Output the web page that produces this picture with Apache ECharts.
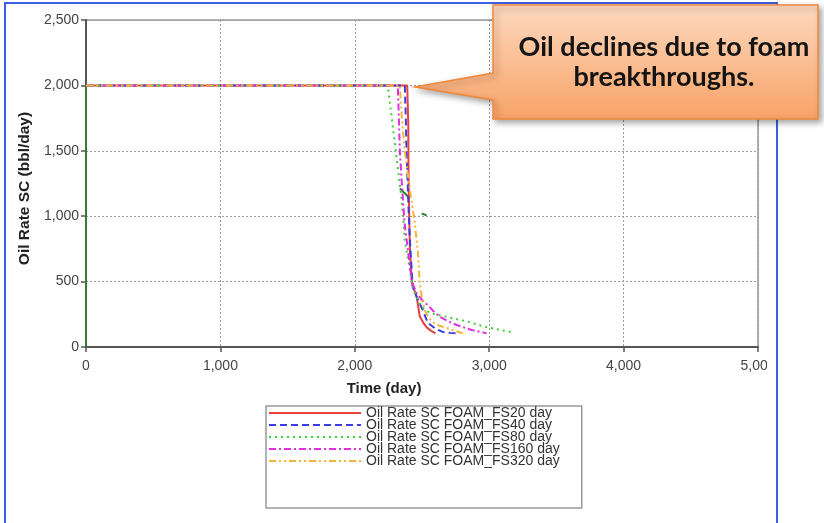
<!DOCTYPE html>
<html>
<head>
<meta charset="utf-8">
<script src="https://cdn.jsdelivr.net/npm/echarts@6/dist/echarts.min.js"></script>
<style>
  html, body { margin: 0; padding: 0; background: #fff; }
  #chart { width: 824px; height: 523px; }
</style>
</head>
<body>
<div id="chart"></div>
<script>
// Oil rate (bbl/day) versus time (day) for each foam strength case
const fs20Time  = [0, 2390, 2398, 2400, 2405, 2410, 2424, 2445, 2461, 2483, 2510, 2535, 2565, 2600];
const fs20Rate  = [2000, 2000, 1700, 1300, 1000, 750, 500, 430, 380, 235, 185, 150, 125, 105];

const fs40Time  = [0, 2372, 2378, 2385, 2395, 2408, 2431, 2470, 2506, 2543, 2600, 2654, 2710, 2758];
const fs40Rate  = [2000, 2000, 1800, 1500, 1200, 850, 457, 360, 282, 185, 140, 115, 108, 105];

const fs80Time  = [0, 2245, 2275, 2305, 2349, 2372, 2400, 2424, 2445, 2468, 2505, 2560, 2720, 2855, 2967, 3075, 3175];
const fs80Rate  = [2000, 2000, 1750, 1500, 1120, 815, 650, 500, 420, 358, 300, 259, 222, 190, 155, 132, 112];

const fs160Time = [0, 2320, 2328, 2335, 2350, 2370, 2400, 2424, 2461, 2500, 2543, 2590, 2632, 2700, 2758, 2870, 2980];
const fs160Rate = [2000, 2000, 1750, 1500, 1250, 950, 700, 500, 410, 360, 320, 270, 230, 195, 168, 130, 105];

const fs320Time = [0, 2335, 2350, 2372, 2410, 2445, 2470, 2483, 2500, 2520, 2550, 2580, 2630, 2684, 2750, 2803];
const fs320Rate = [2000, 2000, 1750, 1500, 1200, 960, 720, 495, 370, 282, 225, 190, 163, 145, 122, 105];

// sparse extra trace (start-up jump and two short fragments)
const extraTime = [0, 0, 2335, 2372, 2409, 2498, 2535];
const extraRate = [0, 2000, 1212, 1175, 1136, 1021, 1006];
const extraBreakAfter = [1, 4]; // indices after which the trace is interrupted

const seriesNames = [
  'Oil Rate SC FOAM_FS20 day',
  'Oil Rate SC FOAM_FS40 day',
  'Oil Rate SC FOAM_FS80 day',
  'Oil Rate SC FOAM_FS160 day',
  'Oil Rate SC FOAM_FS320 day'
];

const calloutText = ['Oil declines due to foam', 'breakthroughs.'];

function zip(ts, vs) { return ts.map((t, i) => [t, vs[i]]); }

function withBreaks(ts, vs, breaks) {
  const out = [];
  ts.forEach((t, i) => {
    out.push([t, vs[i]]);
    if (breaks.includes(i)) out.push([t, '-']);
  });
  return out;
}

const fmt = v => Number(v).toLocaleString('en-US');

const styles = [
  { color: '#e8423f', type: 'solid' },
  { color: '#3b3de0', type: [7, 4] },
  { color: '#3ccf3c', type: [2, 4] },
  { color: '#e02ee0', type: [7, 3, 2, 3] },
  { color: '#f4b43a', type: [7, 3, 2, 3, 2, 3] }
];

const dataSets = [
  zip(fs20Time, fs20Rate),
  zip(fs40Time, fs40Rate),
  zip(fs80Time, fs80Rate),
  zip(fs160Time, fs160Rate),
  zip(fs320Time, fs320Rate)
];

const series = [{
  type: 'line',
  name: 'extra',
  data: withBreaks(extraTime, extraRate, extraBreakAfter),
  showSymbol: false,
  symbol: 'none',
  clip: false,
  connectNulls: false,
  lineStyle: { color: '#2e7d32', width: 2 },
  itemStyle: { color: '#2e7d32' },
  z: 1
}];

dataSets.forEach((d, i) => {
  series.push({
    type: 'line',
    name: seriesNames[i],
    data: d,
    showSymbol: false,
    symbol: 'none',
    lineStyle: { color: styles[i].color, width: 2, type: styles[i].type },
    itemStyle: { color: styles[i].color },
    z: 2 + i
  });
});

const font = "'Liberation Sans', Arial, sans-serif";

const chart = echarts.init(document.getElementById('chart'), null, { renderer: 'canvas' });

chart.setOption({
  animation: false,
  backgroundColor: '#fff',
  grid: {
    left: 86, right: 66, top: 20, bottom: 176,
    show: true, borderColor: '#999', borderWidth: 1.5
  },
  xAxis: {
    type: 'value',
    min: 0, max: 5000, interval: 1000,
    name: 'Time (day)',
    nameLocation: 'middle',
    nameGap: 34,
    nameTextStyle: { fontFamily: font, fontWeight: 'bold', fontSize: 15, color: '#222', padding: [0, 76, 0, 0] },
    axisLine: { show: true, lineStyle: { color: '#555', width: 2 } },
    axisTick: { show: true, length: 5, lineStyle: { color: '#555', width: 1.5 } },
    axisLabel: { formatter: fmt, margin: 12, fontFamily: font, fontSize: 14, color: '#444' },
    splitLine: { show: true, lineStyle: { color: '#9a9a9a', width: 1, type: [2, 2] } }
  },
  yAxis: {
    type: 'value',
    min: 0, max: 2500, interval: 500,
    name: 'Oil Rate SC (bbl/day)',
    nameLocation: 'middle',
    nameGap: 52,
    nameTextStyle: { fontFamily: font, fontWeight: 'bold', fontSize: 15.5, color: '#222', padding: [0, 10, 0, 0] },
    axisLine: { show: true, lineStyle: { color: '#555', width: 2 } },
    axisTick: { show: true, length: 5, lineStyle: { color: '#555', width: 1.5 } },
    axisLabel: { formatter: fmt, margin: 7, fontFamily: font, fontSize: 14, color: '#444' },
    splitLine: { show: true, lineStyle: { color: '#9a9a9a', width: 1, type: [2, 2] } }
  },
  legend: {
    data: seriesNames,
    orient: 'vertical',
    left: 266, top: 406,
    padding: [0, 22, 40, 2],
    itemWidth: 92, itemHeight: 12, itemGap: -2,
    itemStyle: { opacity: 0 },
    borderColor: '#999', borderWidth: 1.5,
    textStyle: { fontFamily: font, fontSize: 14, color: '#333', lineHeight: 12 },
    selectedMode: false
  },
  series: series,
  graphic: [
    // clip area beyond the frame on the right
    { type: 'rect', z: 100, shape: { x: 767, y: 0, width: 57, height: 523 }, style: { fill: '#fff' } },
    // blue frame
    { type: 'polyline', z: 101, shape: { points: [[5, 523], [5, 3], [777, 3], [777, 523]] },
      style: { stroke: '#3d5fe4', lineWidth: 2, fill: null } },
    // callout bubble
    { type: 'polygon', z: 110,
      shape: { points: [[493, 5], [818, 5], [818, 119], [493, 119], [493, 100], [415, 87], [493, 73]] },
      style: {
        fill: new echarts.graphic.LinearGradient(0, 0, 0, 1, [
          { offset: 0, color: '#fdd9c0' },
          { offset: 1, color: '#f8a266' }
        ]),
        stroke: '#f0883a', lineWidth: 1.5,
        shadowBlur: 6, shadowColor: 'rgba(0,0,0,0.35)', shadowOffsetX: 3, shadowOffsetY: 3
      } },
    { type: 'text', z: 111, x: 664, y: 47.5,
      style: { text: calloutText[0], fill: '#141414', font: "bold 27px Lato, 'Open Sans', sans-serif",
               textAlign: 'center', textVerticalAlign: 'middle' } },
    { type: 'text', z: 111, x: 664, y: 77.5,
      style: { text: calloutText[1], fill: '#141414', font: "bold 27px Lato, 'Open Sans', sans-serif",
               textAlign: 'center', textVerticalAlign: 'middle' } }
  ]
});
</script>
</body>
</html>
